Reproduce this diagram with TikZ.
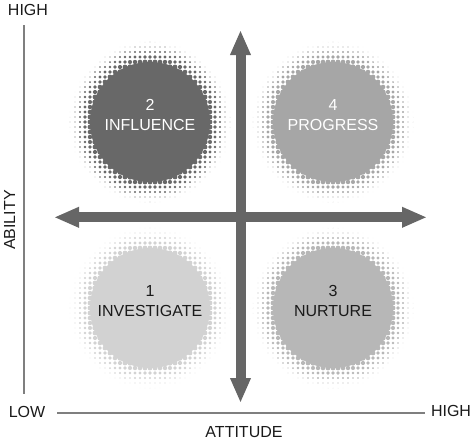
\documentclass[tikz,border=0pt]{standalone}
\usepackage{fontspec}
\setmainfont{Liberation Sans}
\usetikzlibrary{arrows.meta, positioning}
\definecolor{arrowgray}{HTML}{666666}
\definecolor{axisgray}{HTML}{7F7F7F}
\definecolor{inflfill}{HTML}{686868}
\definecolor{progfill}{HTML}{A6A6A6}
\definecolor{invfill}{HTML}{D2D2D2}
\definecolor{nurtfill}{HTML}{B7B7B7}
\definecolor{txtdark}{HTML}{1A1A1A}
\tikzset{
  quad/.style    = {circle, minimum size=120pt, inner sep=0pt},
  quadtxt/.style = {align=center, inner sep=0pt, font=\fontsize{16}{20}\selectfont},
  axlbl/.style   = {inner sep=0pt, text=txtdark, font=\fontsize{16}{19}\selectfont},
  bigarrow/.style= {{Triangle[length=25pt,width=19pt]}-{Triangle[length=25pt,width=19pt]},
                    line width=10pt, draw=arrowgray},
  axisline/.style= {line width=1.3pt, draw=axisgray},
}

\begin{document}
\begin{tikzpicture}[x=1pt, y=-1pt]
\useasboundingbox (0,0) rectangle (474,440);
% halftone rims
\foreach \cx/\cy/\col in {150/122/inflfill, 333/122/progfill, 150/308/invfill, 333/308/nurtfill}{
  \foreach \i in {-16,...,16}{
    \foreach \j in {-16,...,16}{
      \pgfmathsetmacro\rr{sqrt((\i*5)*(\i*5)+(\j*5)*(\j*5))}
      \pgfmathparse{and(\rr>56,\rr<81)}
      \ifnum\pgfmathresult=1
        \pgfmathsetmacro\dr{0.2+2.5*((81-\rr)/23)^1.2}
        \fill[\col] (\cx+\i*5,\cy+\j*5) circle[radius=\dr pt];
      \fi
    }
  }
}
% quadrants
\node[quad, fill=inflfill] (q2) at (150,122) {};
\node[quad, fill=progfill] (q4) at (333,122) {};
\node[quad, fill=invfill]  (q1) at (150,308) {};
\node[quad, fill=nurtfill] (q3) at (333,308) {};
\node[quadtxt, text=white]   (t2) at ([yshift=7pt]q2.center) {2\\INFLUENCE};
\node[quadtxt, text=white]   (t4) at ([yshift=7pt]q4.center) {4\\PROGRESS};
\node[quadtxt, text=txtdark] (t1) at ([yshift=7pt]q1.center) {1\\INVESTIGATE};
\node[quadtxt, text=txtdark] (t3) at ([yshift=7pt]q3.center) {3\\NURTURE};
% cross
\coordinate (vtop) at (240.5,30);
\coordinate (vbot) at (240.5,403);
\coordinate (hleft) at (54,217.3);
\coordinate (hright) at (427,217.3);
\draw[bigarrow] (vbot) -- (vtop);
\draw[bigarrow] (hleft) -- (hright);
% axes
\coordinate (ytop) at (24,25);
\coordinate (ybot) at (24,394);
\coordinate (xleft) at (57,413);
\coordinate (xright) at (425,413);
\draw[axisline] (ytop) -- (ybot);
\draw[axisline] (xleft) -- (xright);
\node[axlbl] (highy) at (28,10) {HIGH};
\node[axlbl, rotate=90] (ability) at (9.5,220) {ABILITY};
\node[axlbl] (low) at (27,412) {LOW};
\node[axlbl] (attitude) at (244,432) {ATTITUDE};
\node[axlbl] (highx) at (451,411) {HIGH};
\end{tikzpicture}
\end{document}
